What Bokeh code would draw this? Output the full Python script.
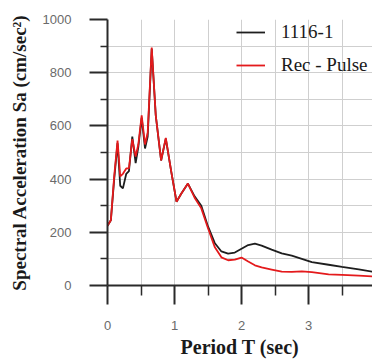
from bokeh.plotting import figure
from bokeh.models import Legend, LegendItem, FixedTicker, Range1d
from bokeh.embed import file_html
from bokeh.resources import INLINE

# Period T (sec)
period = [0.0, 0.05, 0.1, 0.15, 0.19, 0.23, 0.28, 0.32, 0.37, 0.42, 0.46, 0.51, 0.56,
          0.6, 0.66, 0.72, 0.8, 0.87, 0.95, 1.03, 1.1, 1.2, 1.3, 1.4, 1.5, 1.6, 1.7,
          1.8, 1.9, 2.0, 2.1, 2.2, 2.3, 2.45, 2.6, 2.75, 2.9, 3.05, 3.3, 3.5, 3.75, 4.0]

# Spectral acceleration (cm/sec^2), record 1116-1
sa_1116 = [225, 245, 400, 535, 375, 365, 420, 430, 560, 460, 520, 630, 515,
           560, 890, 640, 470, 552, 430, 315, 345, 383, 335, 300, 222, 160, 128,
           120, 124, 138, 152, 157, 150, 135, 121, 112, 100, 88, 78, 70, 61, 50]

# Spectral acceleration (cm/sec^2), Rec - Pulse
sa_pulse = [225, 245, 410, 545, 410, 420, 440, 440, 550, 485, 530, 640, 530,
            575, 895, 640, 470, 555, 430, 315, 345, 383, 330, 290, 215, 145, 106,
            95, 97, 105, 90, 76, 68, 60, 52, 51, 53, 50, 42, 40, 37, 34]

x_ticks = [0, 1, 2, 3, 4]
y_ticks = [0, 200, 400, 600, 800, 1000]

p = figure(width=372, height=362, output_backend="svg", toolbar_location=None,
           x_range=Range1d(0, 3.955), y_range=Range1d(0, 1000),
           min_border_left=107, min_border_right=0, min_border_top=19,
           min_border_bottom=77)
p.outline_line_color = None
p.background_fill_color = "white"

l1 = p.line(period, sa_1116, line_color="#1e1e1e", line_width=1.8)
l2 = p.line(period, sa_pulse, line_color="#e41a1c", line_width=1.8)

grid_color = "#cfcfcf"
for g in (p.xgrid, p.ygrid):
    g.grid_line_color = grid_color
    g.grid_line_width = 1
    g.minor_grid_line_color = grid_color
    g.minor_grid_line_width = 1

p.xaxis.ticker = FixedTicker(ticks=x_ticks, minor_ticks=[0.5, 1.5, 2.5, 3.5])
p.yaxis.ticker = FixedTicker(ticks=y_ticks, minor_ticks=[100, 300, 500, 700, 900])

for ax in (p.xaxis, p.yaxis):
    ax.axis_line_color = "#2a2a2a"
    ax.axis_line_width = 2
    ax.major_tick_line_color = "#2a2a2a"
    ax.major_tick_line_width = 2
    ax.minor_tick_line_color = "#2a2a2a"
    ax.minor_tick_line_width = 1.5
    ax.major_tick_in = 0
    ax.minor_tick_in = 0
    ax.major_label_text_font = "Liberation Sans"
    ax.major_label_text_font_size = "13px"
    ax.major_label_text_color = "#6a6a6a"
    ax.axis_label_text_font = "Liberation Serif"
    ax.axis_label_text_font_style = "bold"
    ax.axis_label_text_color = "#1a1a1a"

p.xaxis.major_tick_out = 19
p.xaxis.minor_tick_out = 10
p.xaxis.major_label_standoff = 16
p.xaxis.axis_label = "Period T (sec)"
p.xaxis.axis_label_text_font_size = "20px"
p.xaxis.axis_label_standoff = 3

p.yaxis.major_tick_out = 18
p.yaxis.minor_tick_out = 7
p.yaxis.major_label_standoff = 18
p.yaxis.axis_label = "Spectral Acceleration Sa (cm/sec\u00b2)"
p.yaxis.axis_label_text_font_size = "19px"
p.yaxis.axis_label_standoff = 10

legend = Legend(items=[LegendItem(label="1116-1", renderers=[l1]),
                       LegendItem(label="Rec - Pulse", renderers=[l2])],
                location=(129, 209))
legend.border_line_color = None
legend.background_fill_alpha = 0
legend.padding = 0
legend.margin = 0
legend.spacing = 11
legend.glyph_width = 29
legend.glyph_height = 20
legend.label_height = 20
legend.label_standoff = 16
legend.label_text_font = "Liberation Serif"
legend.label_text_font_size = "19px"
legend.label_text_color = "#1a1a1a"
p.add_layout(legend)

open("out.html", "w").write(file_html(p, INLINE))
